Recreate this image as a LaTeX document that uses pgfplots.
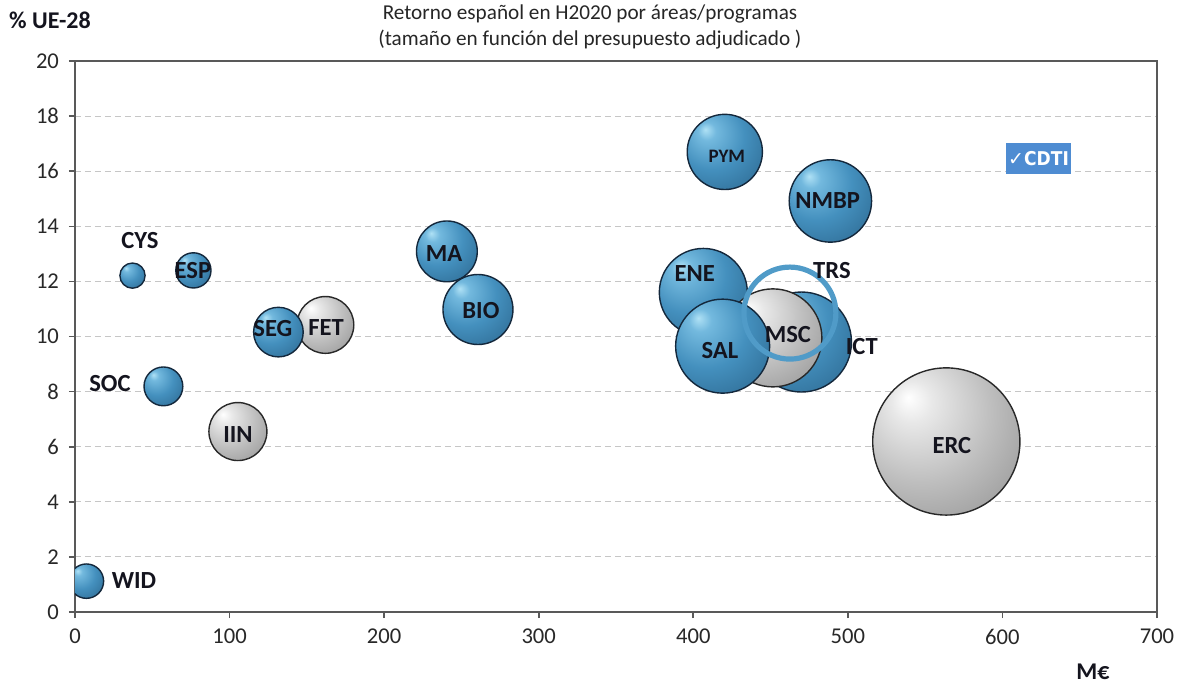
\documentclass[border=0pt]{standalone}
\usepackage{fontspec}
\setmainfont{Carlito}
\newfontfamily\logofont{DejaVu Sans Condensed}
\newfontfamily\symfont{DejaVu Sans}
\usepackage{pgfplots}
\pgfplotsset{compat=1.18}
\usepackage{pgfplotstable}

\definecolor{bhi}{RGB}{175,225,245}
\definecolor{bmid1}{RGB}{115,185,222}
\definecolor{bmid}{RGB}{68,144,190}
\definecolor{bdark}{RGB}{45,105,145}
\definecolor{bedge}{RGB}{22,60,88}
\definecolor{bout}{RGB}{20,40,60}
\definecolor{ghi}{RGB}{255,255,255}
\definecolor{gmid1}{RGB}{232,232,232}
\definecolor{gmid}{RGB}{190,190,190}
\definecolor{gdark}{RGB}{145,145,145}
\definecolor{gedge}{RGB}{85,85,85}
\definecolor{gout}{RGB}{40,40,40}
\definecolor{ringblue}{RGB}{80,155,200}
\definecolor{logoblue}{RGB}{78,140,210}
\definecolor{txt}{RGB}{20,20,30}
\definecolor{tick}{RGB}{40,40,40}

\pgfdeclareradialshading{bshade}{\pgfqpoint{-13bp}{15bp}}{%
 color(0bp)=(bhi); color(6bp)=(bmid1); color(22bp)=(bmid); color(42bp)=(bdark); color(58bp)=(bedge); color(72bp)=(bedge)}
\pgfdeclareradialshading{gshade}{\pgfqpoint{-13bp}{15bp}}{%
 color(0bp)=(ghi); color(7bp)=(gmid1); color(24bp)=(gmid); color(44bp)=(gdark); color(60bp)=(gedge); color(72bp)=(gedge)}

\pgfdeclareplotmark{bball}{%
  \pgfpathcircle{\pgfpointorigin}{\pgfplotmarksize}%
  \pgfshadepath{bshade}{0}%
  \pgfsetstrokecolor{bout}\pgfsetlinewidth{0.7pt}\pgfusepath{stroke}}
\pgfdeclareplotmark{gball}{%
  \pgfpathcircle{\pgfpointorigin}{\pgfplotmarksize}%
  \pgfshadepath{gshade}{0}%
  \pgfsetstrokecolor{gout}\pgfsetlinewidth{0.7pt}\pgfusepath{stroke}}

% x  y  radius(pt)  class
\pgfplotstableread{
x      y      r     c
7.4    1.12   8.6   b
37.2   12.21  6.3   b
76.6   12.40  8.8   b
57.2   8.19   9.7   b
105.4  6.55   14.5  g
162.0  10.42  14.2  g
131.6  10.16  12.4  b
240.6  13.09  15.2  b
260.7  10.98  17.5  b
420.4  16.70  18.8  b
488.7  14.92  20.6  b
406.5  11.60  22.0  b
470.0  9.80   25.0  b
451.5  9.95   24.5  g
419.0  9.65   23.5  b
563.7  6.19   36.8  g
}\bubbles

\pgfplotstableread{
x      y      r
462.5  10.85  23.0
}\ring

\begin{document}
\begin{tikzpicture}
\useasboundingbox (-37.5pt,-37pt) rectangle (553pt,306pt);
\begin{axis}[
  at={(0,0)}, anchor=south west,
  scale only axis, width=541pt, height=275.5pt,
  xmin=0, xmax=700, ymin=0, ymax=20,
  xtick={0,100,...,700}, ytick={0,2,...,20},
  ymajorgrids, grid style={gray!45, densely dashed, line width=0.5pt},
  axis line style={draw=black!65, line width=0.8pt},
  tick align=outside, major tick length=3pt,
  tick style={draw=black!65, line width=0.8pt},
  xtick pos=lower, ytick pos=left,
  ticklabel style={font=\fontsize{11.3}{13}\selectfont, text=tick},
  /pgf/number format/assume math mode=true,
  yticklabel style={xshift=-1.5pt},
  xticklabel style={yshift=-2pt},
  clip marker paths=true,
]
\addplot[scatter, only marks,
  scatter/classes={b={mark=bball}, g={mark=gball}},
  point meta=explicit symbolic,
  visualization depends on={\thisrow{r} \as \rad},
  scatter/@pre marker code/.append style={/tikz/mark size=\rad}]
  table[x=x, y=y, meta=c] {\bubbles};
\addplot[only marks, mark=o, mark size=23pt,
  mark options={draw=ringblue, line width=2.6pt}]
  table[x=x, y=y] {\ring};

\begin{scope}[every node/.style={font=\fontsize{12.3}{14}\selectfont\bfseries, text=txt}]
\node at (axis cs:38.2,1.16) {WID};
\node at (axis cs:42,13.5) {CYS};
\node at (axis cs:76.3,12.38) {ESP};
\node at (axis cs:22.6,8.31) {SOC};
\node at (axis cs:128,10.3) {SEG};
\node at (axis cs:162.4,10.34) {FET};
\node at (axis cs:105.4,6.46) {IIN};
\node at (axis cs:238.7,13.0) {MA};
\node at (axis cs:262.6,10.93) {BIO};
\node[font=\fontsize{9.5}{10}\selectfont\bfseries] at (axis cs:421.7,16.55) {PYM};
\node at (axis cs:487,14.95) {NMBP};
\node at (axis cs:401,12.3) {ENE};
\node at (axis cs:417.2,9.5) {SAL};
\node at (axis cs:461.2,10.09) {MSC};
\node at (axis cs:509,9.65) {ICT};
\node at (axis cs:489.7,12.41) {TRS};
\node at (axis cs:567.3,6.06) {ERC};
\end{scope}
\end{axis}

% title and axis names
\node[font=\fontsize{10.6}{12.6}\selectfont, align=center, text=black!85] at (257.5pt,292.5pt)
  {Retorno español en H2020 por áreas/programas\\(tamaño en función del presupuesto adjudicado )};
\node[font=\fontsize{12}{13}\selectfont\bfseries, text=txt] at (-12.5pt,296pt) {\% UE-28};
\node[font=\fontsize{12}{13}\selectfont\bfseries, text=txt] at (509pt,-30pt) {M€};

% CDTI logo
\node[fill=logoblue, text=white, inner sep=1.2pt, minimum width=30pt, minimum height=15.5pt,
  font=\logofont\bfseries\fontsize{9.5}{11}\selectfont] at (481.75pt,226.75pt) {{\symfont ✓}CDTI};
\end{tikzpicture}
\end{document}
